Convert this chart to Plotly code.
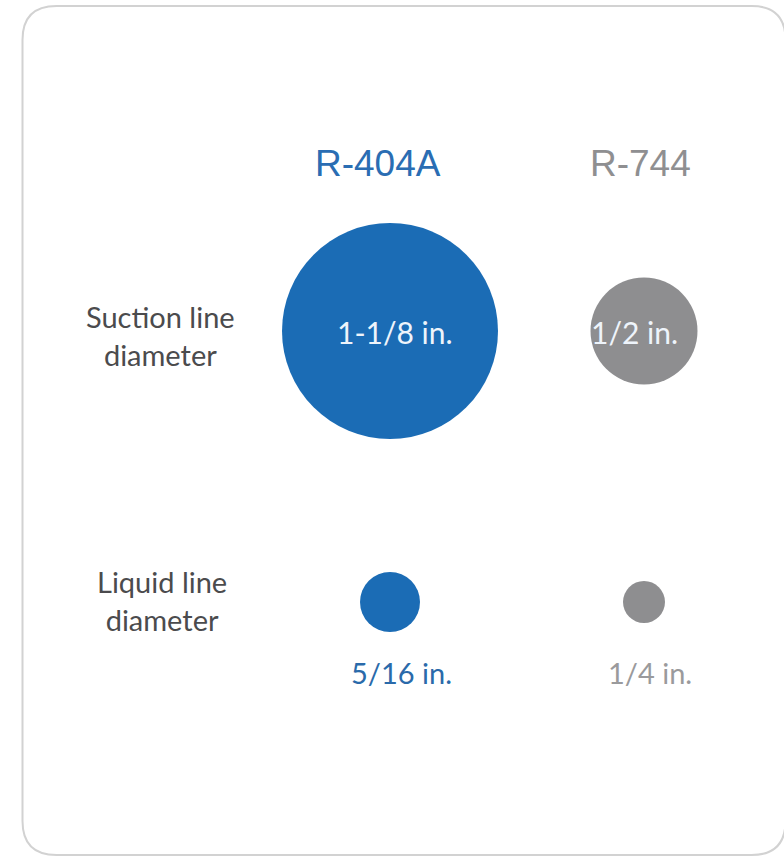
import plotly.graph_objects as go

# ---------------- data ----------------
refrigerants = ["R-404A", "R-744"]
line_types = ["Suction line diameter", "Liquid line diameter"]
row_label_lines = [["Suction line", "diameter"], ["Liquid line", "diameter"]]
suction_diam_in = [1.125, 0.5]
liquid_diam_in = [0.3125, 0.25]
suction_labels = ["1-1/8 in.", "1/2 in."]
liquid_labels = ["5/16 in.", "1/4 in."]

# ---------------- styles ----------------
W, H = 784, 857
col_colors = ["#1b6cb5", "#8e8e90"]
header_colors = ["#2a6db3", "#8f8f91"]
below_colors = ["#2a6aaa", "#9a9a9c"]
row_label_color = "#4b4b4d"
suction_px = [216, 107]   # drawn bubble diameters (px)
liquid_px = [60, 42]
body_font = "Lato, 'Open Sans', sans-serif"
header_font = "'Liberation Sans', Arial, sans-serif"

# pixel layout used to set the category axis ranges
col_px = (390, 644)
row_px = (331, 602)
xu = col_px[1] - col_px[0]
yu = row_px[1] - row_px[0]
x_range = [-col_px[0] / xu, (W - col_px[0]) / xu]
y_range = [(H - row_px[0]) / yu, -row_px[0] / yu]

fig = go.Figure()
for i, ref in enumerate(refrigerants):
    fig.add_trace(go.Scatter(
        x=[ref, ref],
        y=line_types,
        mode="markers",
        marker=dict(size=[suction_px[i], liquid_px[i]], color=col_colors[i],
                    line=dict(width=0), opacity=1),
        customdata=[suction_diam_in[i], liquid_diam_in[i]],
        hovertemplate="%{x}<br>%{y}: %{customdata} in.<extra></extra>",
        showlegend=False,
    ))

ann = []
# column headers
hdr_shift = [(-12, 168), (-4, 168)]
for i, ref in enumerate(refrigerants):
    ann.append(dict(x=i, y=0, xref="x", yref="y", text=ref, showarrow=False,
                    xanchor="center", yanchor="middle",
                    xshift=hdr_shift[i][0], yshift=hdr_shift[i][1],
                    font=dict(family=header_font, size=37, color=header_colors[i])))
# row labels (two-line, centred)
row_shift = [-4, 2]
row_x = [160, 162]
for r, lines in enumerate(row_label_lines):
    ann.append(dict(x=row_x[r] / W, y=r, xref="paper", yref="y",
                    text="<br>".join(lines), align="center",
                    showarrow=False, xanchor="center", yanchor="middle",
                    yshift=row_shift[r],
                    font=dict(family=body_font, size=29, color=row_label_color)))
# labels inside suction bubbles
in_shift = [(5, -1), (-10, -1)]
for i, t in enumerate(suction_labels):
    ann.append(dict(x=i, y=0, xref="x", yref="y", text=t, showarrow=False,
                    xanchor="center", yanchor="middle",
                    xshift=in_shift[i][0], yshift=in_shift[i][1],
                    font=dict(family=body_font, size=30, color="#eef4fb")))
# labels below liquid bubbles
below_shift = [(11, -70), (6, -70)]
for i, t in enumerate(liquid_labels):
    ann.append(dict(x=i, y=1, xref="x", yref="y", text=t, showarrow=False,
                    xanchor="center", yanchor="middle",
                    xshift=below_shift[i][0], yshift=below_shift[i][1],
                    font=dict(family=body_font, size=29, color=below_colors[i])))

# rounded card border (paper coordinates from pixel layout)
def px(x, y):
    return f"{x / W:.5f},{1 - y / H:.5f}"

L, T, R, B, rad = 22.5, 6, 785.5, 855, 34
card = (f"M {px(L + rad, T)} L {px(R - rad, T)} Q {px(R, T)} {px(R, T + rad)} "
        f"L {px(R, B - rad)} Q {px(R, B)} {px(R - rad, B)} "
        f"L {px(L + rad, B)} Q {px(L, B)} {px(L, B - rad)} "
        f"L {px(L, T + rad)} Q {px(L, T)} {px(L + rad, T)} Z")

fig.update_layout(
    width=W, height=H,
    margin=dict(l=0, r=0, t=0, b=0),
    paper_bgcolor="white", plot_bgcolor="rgba(0,0,0,0)",
    xaxis=dict(type="category", categoryarray=refrigerants, range=x_range,
               visible=False, fixedrange=True),
    yaxis=dict(type="category", categoryarray=line_types, range=y_range,
               visible=False, fixedrange=True),
    annotations=ann,
    shapes=[
        dict(type="path", xref="paper", yref="paper", path=card,
             line=dict(color="#d2d2d2", width=2), fillcolor="rgba(0,0,0,0)",
             layer="below"),
    ],
    showlegend=False,
)

fig.write_html("out.html")
